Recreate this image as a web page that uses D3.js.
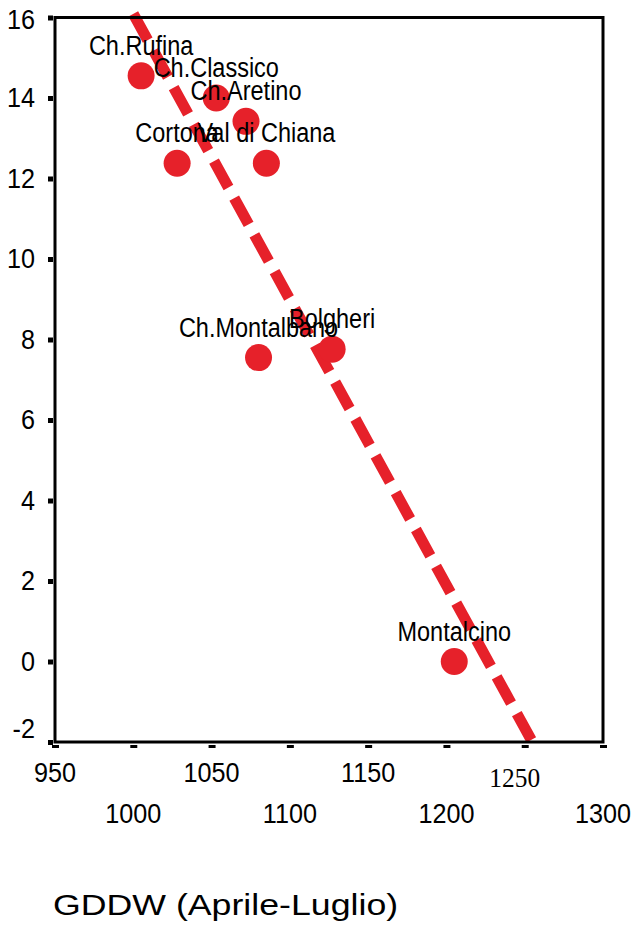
<!DOCTYPE html>
<html>
<head>
<meta charset="utf-8">
<script src="https://cdn.jsdelivr.net/npm/d3@7"></script>
<style>
  body { margin: 0; background: #fff; }
  svg { display: block; }
  text { font-family: "Liberation Sans", Arial, sans-serif; fill: #000; }
</style>
</head>
<body>
<div id="chart"></div>
<script>
// zones and their values
const zones = ['Ch.Rufina', 'Ch.Classico', 'Ch.Aretino', 'Cortona', 'Val di Chiana', 'Ch.Montalbano', 'Bolgheri', 'Montalcino'];
const gddw = [1005, 1053, 1072, 1028, 1085, 1080, 1127, 1205];
const yValues = [14.55, 14.0, 13.42, 12.38, 12.38, 7.55, 7.76, 0.0];

// dashed trend line, two end points
const trendX = [1000, 1257];
const trendY = [16.09, -2.15];

const xTicks = [950, 1000, 1050, 1100, 1150, 1200, 1250, 1300];
const yTicks = [-2, 0, 2, 4, 6, 8, 10, 12, 14, 16];
const xTitle = 'GDDW (Aprile-Luglio)';

const RED = '#e6212a';
const w = 636;
const h = 925;

const svg = d3.select('#chart').append('svg').attr('width', w).attr('height', h);

const x = d3.scaleLinear().domain([950, 1300]).range([55, 603]);
const y = d3.scaleLinear().domain([-2, 16]).range([742, 17.5]);

// trend line
const line = d3
  .line()
  .x((d) => x(d[0]))
  .y((d) => y(d[1]));

svg
  .append('path')
  .datum(trendX.map((v, i) => [v, trendY[i]]))
  .attr('fill', 'none')
  .attr('stroke', RED)
  .attr('stroke-width', 11)
  .attr('stroke-dasharray', '30 12')
  .attr('d', line);

// frame
svg
  .append('rect')
  .attr('x', x(950))
  .attr('y', y(16))
  .attr('width', x(1300) - x(950))
  .attr('height', y(-2) - y(16))
  .attr('fill', 'none')
  .attr('stroke', '#000')
  .attr('stroke-width', 3);

// y axis: square ticks left of the frame
const yAxis = svg
  .append('g')
  .attr('transform', `translate(${x(950) - 2},0)`)
  .call(d3.axisLeft(y).tickValues(yTicks).tickSize(5).tickPadding(15).tickFormat((d) => String(d)));
yAxis.select('.domain').remove();
yAxis.selectAll('.tick line').attr('stroke', '#000').attr('stroke-width', 5);
yAxis
  .selectAll('.tick text')
  .attr('fill', '#000')
  .style('font-size', '28px')
  .style('font-family', '"Liberation Sans", Arial, sans-serif')
  .attr('transform', 'scale(0.9,1)')
  .attr('y', (d) => (d === -2 ? -13 : d === 16 ? 2.5 : 0));

// x axis: short dashes under the frame
const xAxis = svg
  .append('g')
  .attr('transform', `translate(0,${y(-2) + 3})`)
  .call(d3.axisBottom(x).tickValues(xTicks).tickSize(3).tickFormat(''));
xAxis.select('.domain').remove();
xAxis.selectAll('.tick line').attr('stroke', '#000').attr('stroke-width', 7);

// x tick labels on two staggered rows
svg
  .append('g')
  .selectAll('text')
  .data(xTicks)
  .join('text')
  .attr('text-anchor', 'middle')
  .style('font-size', (d) => (d === 1250 ? '27px' : '28px'))
  .style('font-family', (d) => (d === 1250 ? '"Liberation Serif", "Times New Roman", serif' : null))
  .attr('transform', (d, i) => {
    if (d === 1250) return `translate(${x(d) - 10},787) scale(0.94,1)`;
    return `translate(${x(d)},${i % 2 === 0 ? 782 : 823}) scale(0.9,1)`;
  })
  .text((d) => String(d));

// points
const pts = zones.map((z, i) => ({ zone: z, gddw: gddw[i], v: yValues[i] }));

svg
  .append('g')
  .selectAll('circle')
  .data(pts)
  .join('circle')
  .attr('cx', (d) => x(d.gddw))
  .attr('cy', (d) => y(d.v))
  .attr('r', 13.5)
  .attr('fill', RED);

svg
  .append('g')
  .selectAll('text')
  .data(pts)
  .join('text')
  .attr('text-anchor', 'middle')
  .style('font-size', '27px')
  .attr('transform', (d) => `translate(${x(d.gddw)},${y(d.v) - 21}) scale(0.87,1)`)
  .text((d) => d.zone);

// axis title
svg
  .append('text')
  .style('font-size', '30px')
  .attr('transform', 'translate(53,915) scale(1.19,1)')
  .text(xTitle);
</script>
</body>
</html>
